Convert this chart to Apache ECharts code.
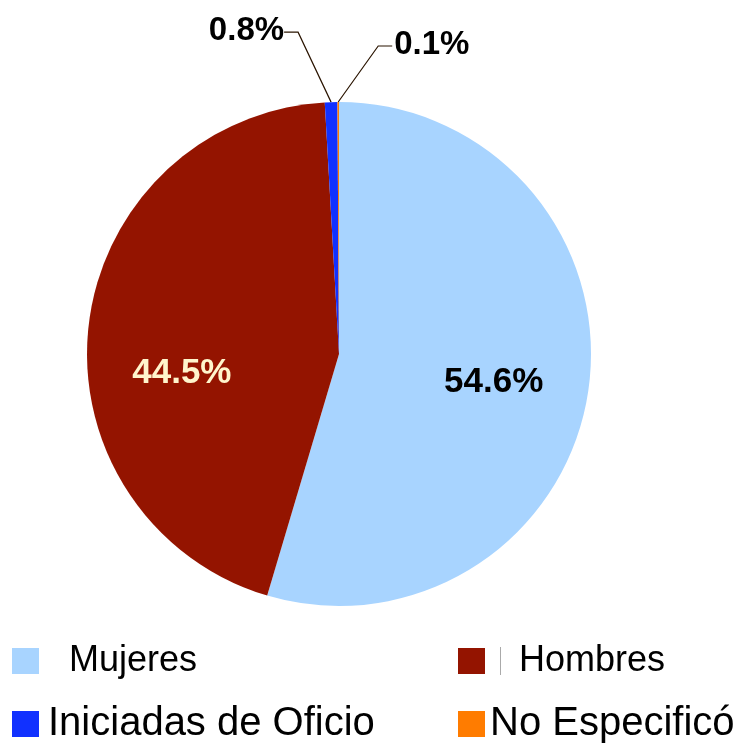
<!DOCTYPE html>
<html>
<head>
<meta charset="utf-8">
<script src="https://cdn.jsdelivr.net/npm/echarts@6/dist/echarts.min.js"></script>
<style>
  html, body { margin: 0; padding: 0; background: #fff; }
  #chart { width: 742px; height: 743px; }
</style>
</head>
<body>
<div id="chart"></div>
<script>
// datos del grafico
const categorias = ['Mujeres', 'Hombres', 'Iniciadas de Oficio', 'No Especificó']
const porcentajes = [54.6, 44.5, 0.8, 0.1]
const colores = ['#A8D4FF', '#941400', '#1131FF', '#FF7C00']

const fuente = 'Liberation Sans'
const chart = echarts.init(document.getElementById('chart'))

// etiquetas: dos dentro de la torta, dos fuera con linea guia
const etiquetas = [
  { position: 'inside', offset: [27, 10], color: '#000' },
  { position: 'inside', offset: [-29, 34], color: '#FFF5CC' },
  { position: 'outside', color: '#000' },
  { position: 'outside', color: '#000' },
]

const datos = categorias.map((name, i) => ({
  name: name,
  value: porcentajes[i],
  itemStyle: { color: colores[i] },
  label: etiquetas[i],
}))

function leyenda(name, left, top, size, rich, fmt) {
  return {
    data: [name],
    left: left,
    top: top,
    padding: 0,
    itemWidth: 27,
    itemHeight: 26,
    icon: 'rect',
    selectedMode: false,
    formatter: fmt,
    textStyle: {
      fontFamily: fuente,
      fontSize: size,
      color: '#000',
      rich: rich,
    },
  }
}

chart.setOption({
  animation: false,
  legend: [
    leyenda('Mujeres', 12, 643, 36, {
      g: { width: 25 },
      t: { fontFamily: fuente, fontSize: 36, color: '#000' },
    }, '{g|}{t|{name}}'),
    leyenda('Hombres', 458, 643, 36, {
      g: { width: 10 },
      bar: { width: 1, height: 28, backgroundColor: '#aaaaaa' },
      g2: { width: 18 },
      t: { fontFamily: fuente, fontSize: 36, color: '#000' },
    }, '{g|}{bar|}{g2|}{t|{name}}'),
    leyenda('Iniciadas de Oficio', 12, 704, 40, {
      g: { width: 4 },
      t: { fontFamily: fuente, fontSize: 40, color: '#000' },
    }, '{g|}{t|{name}}'),
    leyenda('No Especificó', 458, 704, 40, undefined, '{name}'),
  ],
  series: [
    {
      type: 'pie',
      center: [339, 354],
      radius: 252,
      startAngle: 90,
      clockwise: true,
      avoidLabelOverlap: false,
      silent: true,
      data: datos,
      label: {
        fontFamily: fuente,
        fontWeight: 'bold',
        fontSize: 35,
        formatter: (p) => p.value.toFixed(1) + '%',
      },
      labelLine: {
        show: true,
        length: 20,
        length2: 10,
        lineStyle: { color: '#2a1400', width: 1.2 },
      },
      labelLayout: (p) => {
        const pts = p.labelLinePoints
        if (!pts) return {}
        const e = pts[0]
        if (p.dataIndex === 2) {
          return {
            x: e[0] - 47, y: e[1] - 71, align: 'right', verticalAlign: 'middle',
            fontSize: 33,
            labelLinePoints: [[e[0], e[1]], [e[0] - 33, e[1] - 70], [e[0] - 47, e[1] - 70]],
          }
        }
        if (p.dataIndex === 3) {
          return {
            x: e[0] + 56, y: e[1] - 57, align: 'left', verticalAlign: 'middle',
            fontSize: 33,
            labelLinePoints: [[e[0], e[1]], [e[0] + 40, e[1] - 56], [e[0] + 54, e[1] - 56]],
          }
        }
        return {}
      },
    },
  ],
})
</script>
</body>
</html>
